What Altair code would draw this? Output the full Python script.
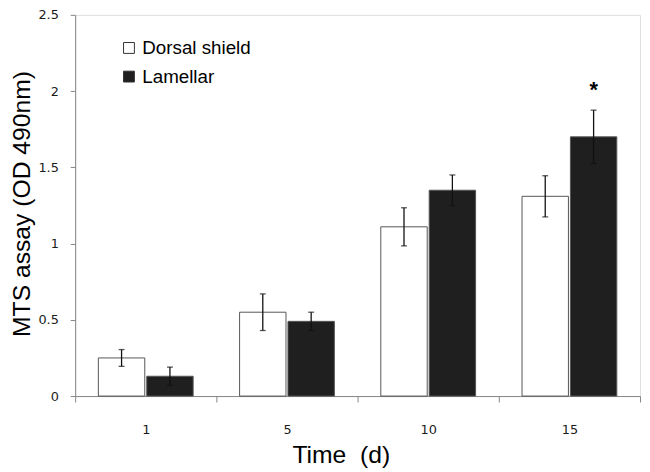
import altair as alt
import pandas as pd

days = ["1", "5", "10", "15"]
groups = ["Dorsal shield", "Lamellar"]
dorsal_mean = [0.25, 0.55, 1.11, 1.31]
dorsal_err = [0.055, 0.12, 0.125, 0.135]
lamellar_mean = [0.13, 0.49, 1.35, 1.70]
lamellar_err = [0.06, 0.06, 0.10, 0.175]
dorsal_sig = ["", "", "", ""]
lamellar_sig = ["", "", "", "*"]
y_ticks = [0, 0.5, 1, 1.5, 2, 2.5]

rows = []
for g, means, errs, sigs in [
    (groups[0], dorsal_mean, dorsal_err, dorsal_sig),
    (groups[1], lamellar_mean, lamellar_err, lamellar_sig),
]:
    for d, m, e, s in zip(days, means, errs, sigs):
        rows.append({"day": d, "group": g, "mean": m, "lo": m - e, "hi": m + e, "sig": s})
df = pd.DataFrame(rows)

AXIS_GRAY = "#868686"

x_enc = alt.X(
    "day:N",
    sort=days,
    scale=alt.Scale(paddingInner=0, paddingOuter=0),
    axis=alt.Axis(
        title="Time \u00a0(d)",
        labelAngle=0,
        tickBand="extent",
        tickSize=6,
        tickColor=AXIS_GRAY,
        domainColor=AXIS_GRAY,
        labelFont="DejaVu Sans",
        labelFontSize=13,
        labelColor="#1a1a1a",
        labelPadding=22,
        titleFont="Liberation Sans",
        titleFontSize=25,
        titleFontWeight="normal",
        titleColor="#000000",
        titleX=269,
        titleY=67,
        titleAlign="center",
        titleBaseline="alphabetic",
    ),
)
xoff_enc = alt.XOffset(
    "group:N", sort=groups, scale=alt.Scale(paddingInner=0.041, paddingOuter=0.48)
)
y_scale = alt.Scale(domain=[0, 2.5], nice=False)

bars = alt.Chart(df).mark_bar(stroke="#555555", strokeWidth=1).encode(
    x=x_enc,
    xOffset=xoff_enc,
    y=alt.Y(
        "mean:Q",
        scale=y_scale,
        axis=alt.Axis(
            values=y_ticks,
            format="~g",
            grid=False,
            tickSize=5,
            tickColor=AXIS_GRAY,
            domainColor=AXIS_GRAY,
            labelFont="DejaVu Sans",
            labelFontSize=13,
            labelColor="#1a1a1a",
            labelPadding=12,
            title="MTS assay (OD 490nm)",
            titleFont="Liberation Sans",
            titleFontSize=25,
            titleFontWeight="normal",
            titleColor="#000000",
            titleAngle=270,
            titleX=-46,
            titleY=191,
            titleAlign="center",
            titleBaseline="alphabetic",
        ),
    ),
    fill=alt.Fill(
        "group:N",
        sort=groups,
        scale=alt.Scale(domain=groups, range=["#ffffff", "#1f1f1f"]),
        legend=alt.Legend(
            title=None,
            orient="none",
            legendX=45,
            legendY=24,
            symbolType="square",
            symbolSize=121,
            symbolStrokeColor="#333333",
            symbolStrokeWidth=1,
            labelFont="Liberation Sans",
            labelFontSize=19,
            labelColor="#000000",
            labelOffset=4,
            rowPadding=9,
            padding=0,
        ),
    ),
)

err_rule = alt.Chart(df).mark_rule(color="#111111", strokeWidth=1.3).encode(
    x=x_enc, xOffset=xoff_enc, y=alt.Y("lo:Q", scale=y_scale), y2="hi:Q"
)
cap_hi = alt.Chart(df).mark_tick(color="#111111", thickness=1.3, size=6).encode(
    x=x_enc, xOffset=xoff_enc, y=alt.Y("hi:Q", scale=y_scale)
)
cap_lo = alt.Chart(df).mark_tick(color="#111111", thickness=1.3, size=6).encode(
    x=x_enc, xOffset=xoff_enc, y=alt.Y("lo:Q", scale=y_scale)
)
star = alt.Chart(df).mark_text(
    font="Liberation Sans", fontSize=22, fontWeight="bold", baseline="alphabetic",
    dy=-13, color="#000000"
).encode(x=x_enc, xOffset=xoff_enc, y=alt.Y("hi:Q", scale=y_scale), text="sig:N")

chart = (
    alt.layer(bars, err_rule, cap_hi, cap_lo, star)
    .properties(
        width=572,
        height=386,
        autosize="none",
        padding={"left": 68, "top": 4, "right": 2, "bottom": 80},
    )
    .configure_view(stroke=None)
    .configure(background="#ffffff")
)

chart.save("out.html", embed_options={"renderer": "svg", "actions": False})
